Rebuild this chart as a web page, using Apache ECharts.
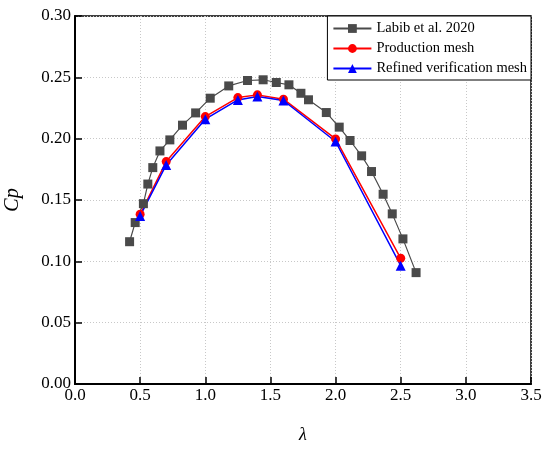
<!DOCTYPE html>
<html>
<head>
<meta charset="utf-8">
<script src="https://cdn.jsdelivr.net/npm/echarts@6/dist/echarts.min.js"></script>
<style>
html,body{margin:0;padding:0;background:#fff;}
#main{width:550px;height:450px;}
</style>
</head>
<body>
<div id="main"></div>
<script>
// data
var labibLambda = [0.419, 0.462, 0.525, 0.559, 0.597, 0.652, 0.728, 0.825, 0.926, 1.038, 1.18, 1.324, 1.444,
    1.545, 1.642, 1.734, 1.792, 1.929, 2.028, 2.111, 2.2, 2.276, 2.365, 2.435, 2.517, 2.618];
var labibCp = [0.116, 0.1316, 0.147, 0.163, 0.1764, 0.190, 0.199, 0.211, 0.221, 0.233, 0.243, 0.2474, 0.248,
    0.2458, 0.2439, 0.237, 0.2317, 0.2213, 0.2094, 0.1985, 0.186, 0.1732, 0.1547, 0.1387, 0.1183, 0.0908];
var meshLambda = [0.5, 0.7, 1.0, 1.25, 1.4, 1.6, 2.0, 2.5];
var productionCp = [0.1384, 0.1813, 0.218, 0.2335, 0.2357, 0.2322, 0.1998, 0.1025];
var refinedCp = [0.137, 0.1786, 0.2159, 0.2316, 0.2343, 0.2311, 0.1977, 0.0965];
var seriesNames = ['Labib et al. 2020', 'Production mesh', 'Refined verification mesh'];

function pairs(xs, ys) {
    var out = [];
    for (var i = 0; i < xs.length; i++) {
        out.push([xs[i], ys[i]]);
    }
    return out;
}

var serif = '"Liberation Serif", "DejaVu Serif", serif';
var gridLine = {show: true, lineStyle: {color: '#c8c8c8', type: [1, 2], width: 1}};

var option = {
    animation: false,
    grid: {left: 75, right: 19, top: 16, bottom: 66, outerBoundsMode: 'none',
        show: true, borderColor: '#000', borderWidth: 1.5},
    legend: {
        orient: 'vertical',
        right: 19,
        top: 16,
        data: seriesNames,
        backgroundColor: '#fff',
        borderColor: '#000',
        borderWidth: 1,
        padding: [5, 4, 4, 5],
        itemGap: 5,
        itemWidth: 38,
        itemHeight: 11,
        textStyle: {fontFamily: serif, fontSize: 14.5, color: '#000'}
    },
    xAxis: {
        type: 'value',
        min: 0, max: 3.5, interval: 0.5,
        name: 'λ',
        nameLocation: 'middle',
        nameGap: 42,
        nameTextStyle: {fontFamily: serif, fontSize: 18, fontStyle: 'italic', color: '#000'},
        axisLine: {show: true, onZero: false, lineStyle: {color: '#000', width: 2}},
        axisTick: {show: true, inside: true, length: 7, lineStyle: {color: '#000', width: 1.5}},
        axisLabel: {fontFamily: serif, fontSize: 17, color: '#000', margin: 3,
            formatter: function (v) { return v.toFixed(1); }},
        splitLine: gridLine
    },
    yAxis: {
        type: 'value',
        min: 0, max: 0.3, interval: 0.05,
        name: 'Cp',
        nameLocation: 'middle',
        nameGap: 52,
        nameTextStyle: {fontFamily: serif, fontSize: 20, fontStyle: 'italic', color: '#000'},
        axisLine: {show: true, onZero: false, lineStyle: {color: '#000', width: 2}},
        axisTick: {show: true, inside: true, length: 7, lineStyle: {color: '#000', width: 1.5}},
        axisLabel: {fontFamily: serif, fontSize: 17, color: '#000', margin: 4,
            formatter: function (v) { return v.toFixed(2); }},
        splitLine: gridLine
    },
    series: [
        {
            name: seriesNames[0],
            type: 'line',
            data: pairs(labibLambda, labibCp),
            symbol: 'rect',
            symbolSize: 9,
            itemStyle: {color: '#4a4a4a'},
            lineStyle: {color: '#4a4a4a', width: 1.2}
        },
        {
            name: seriesNames[1],
            type: 'line',
            data: pairs(meshLambda, productionCp),
            symbol: 'circle',
            symbolSize: 9,
            itemStyle: {color: '#ff0000'},
            lineStyle: {color: '#ff0000', width: 1.5}
        },
        {
            name: seriesNames[2],
            type: 'line',
            data: pairs(meshLambda, refinedCp),
            symbol: 'triangle',
            symbolSize: 10,
            itemStyle: {color: '#0000ff'},
            lineStyle: {color: '#0000ff', width: 1.5}
        }
    ]
};

var myChart = echarts.init(document.getElementById('main'));
myChart.setOption(option);
</script>
</body>
</html>
